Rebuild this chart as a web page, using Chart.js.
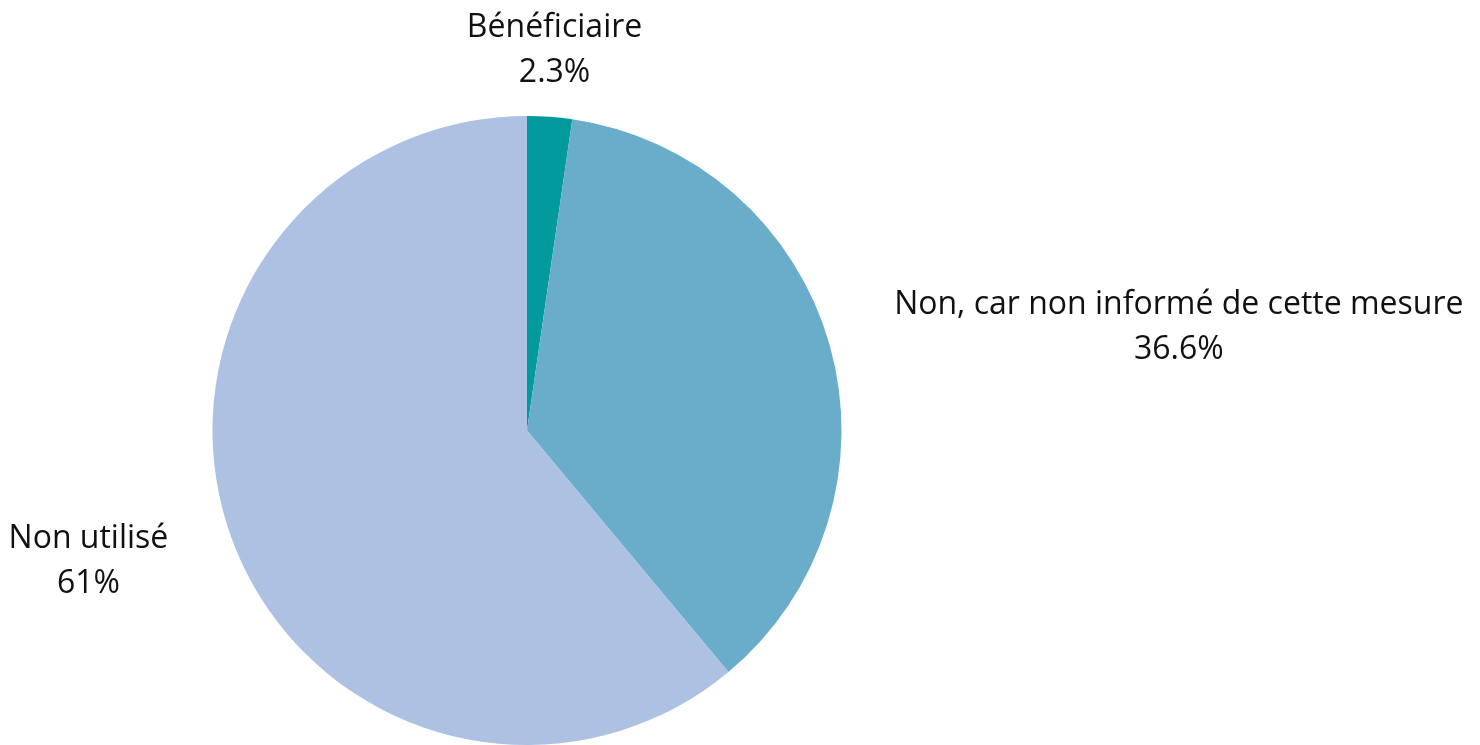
<!DOCTYPE html>
<html lang="fr">
<head>
<meta charset="utf-8">
<script src="https://cdn.jsdelivr.net/npm/chart.js@4"></script>
<style>
  html, body { margin: 0; padding: 0; background: #fff; }
  #wrap { width: 1480px; height: 745px; }
</style>
</head>
<body>
<div id="wrap"><canvas id="camembert"></canvas></div>
<script>
// Répartition des réponses
const categories = [
  "Bénéficiaire",
  "Non, car non informé de cette mesure",
  "Non utilisé",
];
const valeurs = [2.3, 36.6, 61];
const etiquettes = ["2.3%", "36.6%", "61%"];
const couleurs = ["#039a9e", "#69adcb", "#adc1e3"];

// étiquettes placées à l'extérieur du camembert, le long de la bissectrice de chaque part
const etiquettesExterieures = {
  id: "etiquettesExterieures",
  afterDatasetsDraw(chart) {
    const ctx = chart.ctx;
    const arcs = chart.getDatasetMeta(0).data;
    ctx.save();
    ctx.font = "32px 'Open Sans', 'Noto Sans', sans-serif";
    ctx.fillStyle = "#111";
    ctx.textBaseline = "middle";
    arcs.forEach((arc, i) => {
      const milieu = (arc.startAngle + arc.endAngle) / 2;
      const r = arc.outerRadius + 67;
      const x = arc.x + Math.cos(milieu) * r;
      const y = arc.y + Math.sin(milieu) * r;
      const lignes = [categories[i], etiquettes[i]];
      const larg = Math.max(...lignes.map((l) => ctx.measureText(l).width));
      let cx = x;
      if (Math.abs(Math.cos(milieu)) > 0.5) {
        cx = Math.cos(milieu) > 0 ? x + larg / 2 : x - larg / 2;
      }
      ctx.textAlign = "center";
      ctx.fillText(lignes[0], cx, y - 22);
      ctx.fillText(lignes[1], cx, y + 23);
    });
    ctx.restore();
  },
};

new Chart(document.getElementById("camembert"), {
  type: "pie",
  data: {
    labels: categories,
    datasets: [
      {
        data: valeurs,
        backgroundColor: couleurs,
        borderWidth: 0,
      },
    ],
  },
  options: {
    responsive: true,
    maintainAspectRatio: false,
    animation: false,
    layout: {
      padding: { left: 212, right: 638, top: 116, bottom: 0 },
    },
    plugins: {
      legend: { display: false },
      tooltip: { enabled: false },
    },
  },
  plugins: [etiquettesExterieures],
});
</script>
</body>
</html>
